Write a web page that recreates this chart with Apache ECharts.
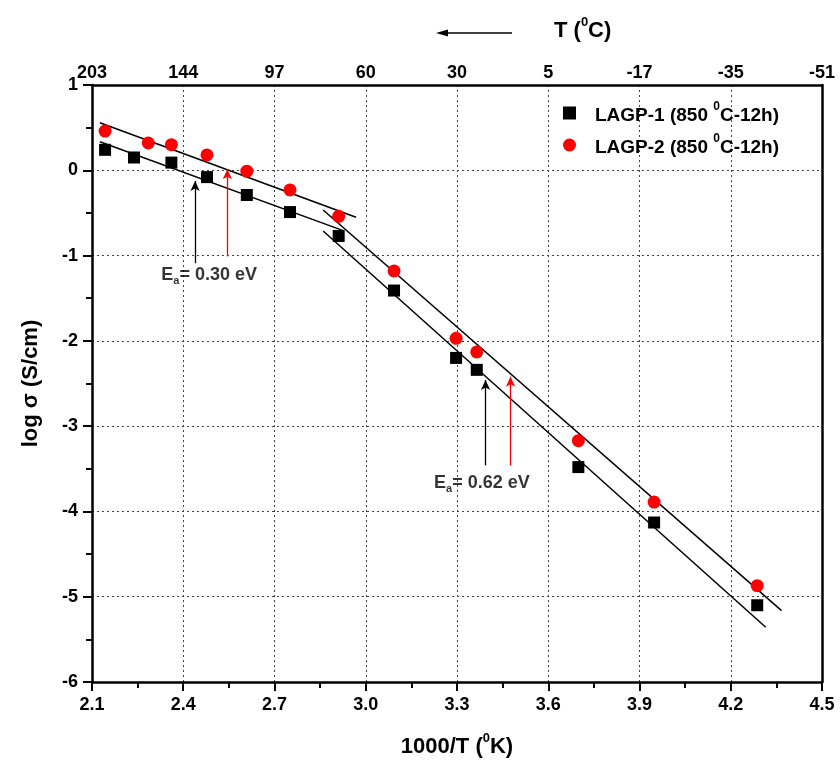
<!DOCTYPE html>
<html>
<head>
<meta charset="utf-8">
<script src="https://cdn.jsdelivr.net/npm/echarts@6/dist/echarts.min.js"></script>
<style>html,body{margin:0;padding:0;background:#fff}#c{width:840px;height:771px}</style>
</head>
<body>
<div id="c"></div>
<script>
// ---- data ----
const xBlack = [2.143, 2.238, 2.361, 2.478, 2.609, 2.751, 2.911, 3.093, 3.297, 3.365, 3.699, 3.948, 4.287];
const yBlack = [0.24, 0.15, 0.09, -0.08, -0.29, -0.49, -0.77, -1.41, -2.20, -2.34, -3.48, -4.13, -5.10];
const xRed = [2.143, 2.285, 2.361, 2.478, 2.609, 2.751, 2.911, 3.093, 3.297, 3.365, 3.699, 3.948, 4.287];
const yRed = [0.46, 0.32, 0.30, 0.18, -0.01, -0.23, -0.54, -1.18, -1.97, -2.13, -3.17, -3.89, -4.87];
const seriesNames = ['LAGP-1', 'LAGP-2'];
const fitRedHigh = [[2.126, 0.558], [2.968, -0.551]];
const fitBlackHigh = [[2.126, 0.335], [2.926, -0.708]];
const fitRedLow = [[2.860, -0.465], [4.367, -5.163]];
const fitBlackLow = [[2.860, -0.712], [4.315, -5.358]];
const arrowX = [2.439, 2.545, 3.394, 3.476];
const arrowFrom = [-1.09, -1.01, -3.46, -3.46];
const arrowTo = [-0.125, 0.012, -2.458, -2.42];
const arrowColor = ['#000000', '#ff0000', '#000000', '#ff0000'];
const eaX = [2.485, 3.382];
const eaY = [-1.24, -3.68];
const eaText = ['0.30 eV', '0.62 eV'];
const topLabels = ['203', '144', '97', '60', '30', '5', '-17', '-35', '-51'];

const FONT = "'Liberation Sans', Arial, sans-serif";
const chart = echarts.init(document.getElementById('c'));

const supRich = {
  n: { fontFamily: FONT, fontWeight: 'bold', fontSize: 22, color: '#000', lineHeight: 26, verticalAlign: 'bottom' },
  sup: { fontFamily: FONT, fontWeight: 'bold', fontSize: 13, color: '#000', lineHeight: 13, verticalAlign: 'top' }
};
const legRich = {
  g: { width: 14 },
  n: { fontFamily: FONT, fontWeight: 'bold', fontSize: 19, color: '#000', lineHeight: 24, verticalAlign: 'bottom' },
  sup: { fontFamily: FONT, fontWeight: 'bold', fontSize: 12, color: '#000', lineHeight: 12, verticalAlign: 'top' }
};
const subRich = {
  e: { fontFamily: FONT, fontWeight: 'bold', fontSize: 18, color: '#000', lineHeight: 20, verticalAlign: 'top' },
  sub: { fontFamily: FONT, fontWeight: 'bold', fontSize: 11, color: '#000', lineHeight: 11, padding: [14, 0, 0, 0], verticalAlign: 'bottom' }
};

function fitSeries(d) {
  return { type: 'line', data: d, symbol: 'none', lineStyle: { color: '#000', width: 1.5 }, silent: true, z: 1, animation: false };
}

const option = {
  animation: false,
  backgroundColor: '#fff',
  grid: { left: 92, right: 18, top: 85, bottom: 89 },
  legend: {
    left: 558, top: 96, orient: 'vertical', itemWidth: 13, itemHeight: 13, itemGap: 8,
    data: seriesNames,
    formatter: function (name) { return '{g|}{n|' + name + ' (850 }{sup|0}{n|C-12h)}'; },
    textStyle: { rich: legRich }
  },
  xAxis: [{
    type: 'value', min: 2.1, max: 4.5, interval: 0.3, position: 'bottom',
    name: '{n|1000/T (}{sup|0}{n|K)}', nameLocation: 'middle', nameGap: 50,
    nameTextStyle: { rich: supRich },
    axisLine: { onZero: false, lineStyle: { color: '#000', width: 2.5 } },
    axisTick: { show: true, inside: false, length: 9, lineStyle: { width: 2, color: '#000' } },
    minorTick: { show: true, splitNumber: 2, length: 6, lineStyle: { width: 2, color: '#000' } },
    axisLabel: { fontFamily: FONT, fontWeight: 'bold', fontSize: 18, color: '#000', margin: 14,
      formatter: function (v) { return v.toFixed(1); } },
    splitLine: { show: true, lineStyle: { type: [2, 3], color: '#444', width: 1 } }
  }, {
    type: 'value', min: 2.1, max: 4.5, interval: 0.3, position: 'top',
    axisLine: { show: true, onZero: false, lineStyle: { color: '#000', width: 2.5 } },
    axisTick: { show: false },
    axisLabel: { fontFamily: FONT, fontWeight: 'bold', fontSize: 18, color: '#000', margin: 3,
      formatter: function (v, i) { return topLabels[i]; } },
    splitLine: { show: false }
  }],
  yAxis: [{
    type: 'value', min: -6, max: 1, interval: 1,
    name: 'log σ (S/cm)', nameLocation: 'middle', nameGap: 50, nameRotate: 90,
    nameTextStyle: { fontFamily: FONT, fontWeight: 'bold', fontSize: 22, color: '#000' },
    axisLine: { show: true, onZero: false, lineStyle: { color: '#000', width: 2.5 } },
    axisTick: { show: true, inside: false, length: 9, lineStyle: { width: 2, color: '#000' } },
    minorTick: { show: true, splitNumber: 2, length: 6, lineStyle: { width: 2, color: '#000' } },
    axisLabel: { fontFamily: FONT, fontWeight: 'bold', fontSize: 18, color: '#000', margin: 14 },
    splitLine: { show: true, lineStyle: { type: [2, 3], color: '#444', width: 1 } }
  }, {
    type: 'value', min: -6, max: 1, interval: 1, position: 'right',
    axisLine: { show: true, onZero: false, lineStyle: { color: '#000', width: 2.5 } },
    axisTick: { show: false }, axisLabel: { show: false }, splitLine: { show: false }
  }],
  graphic: [
    { type: 'line', shape: { x1: 446, y1: 33, x2: 512, y2: 33 }, style: { stroke: '#000', lineWidth: 1.5 } },
    { type: 'polygon', shape: { points: [[436, 33], [448, 29.5], [448, 36.5]] }, style: { fill: '#000' } },
    { type: 'text', left: 554, top: 16, style: { text: '{n|T (}{sup|0}{n|C)}', rich: supRich } }
  ],
  series: [
    fitSeries(fitRedHigh), fitSeries(fitBlackHigh), fitSeries(fitRedLow), fitSeries(fitBlackLow),
    {
      name: seriesNames[0], type: 'scatter', symbol: 'rect', symbolSize: 12, z: 3,
      itemStyle: { color: '#000', opacity: 1 },
      data: xBlack.map(function (x, i) { return [x, yBlack[i]]; })
    },
    {
      name: seriesNames[1], type: 'scatter', symbol: 'circle', symbolSize: 13, z: 3,
      itemStyle: { color: '#ff0000', opacity: 1 },
      data: xRed.map(function (x, i) { return [x, yRed[i]]; })
    },
    {
      type: 'scatter', symbolSize: 0, silent: true, z: 2,
      data: arrowX.map(function (x, i) { return [x, arrowFrom[i]]; }),
      markLine: {
        silent: true, symbol: ['none', 'arrow'], symbolSize: [7, 10], label: { show: false },
        data: arrowX.map(function (x, i) {
          return [{ coord: [x, arrowFrom[i]], lineStyle: { color: arrowColor[i], width: 1.3, type: 'solid' } },
                  { coord: [x, arrowTo[i]] }];
        })
      }
    },
    {
      type: 'scatter', symbolSize: 0, silent: true, z: 4,
      data: eaX.map(function (x, i) { return { value: [x, eaY[i]], txt: eaText[i] }; }),
      label: {
        show: true, position: 'inside',
        formatter: function (p) { return '{e|E}{sub|a}{e|= ' + p.data.txt + '}'; },
        rich: subRich
      }
    }
  ]
};
chart.setOption(option);
</script>
</body>
</html>
